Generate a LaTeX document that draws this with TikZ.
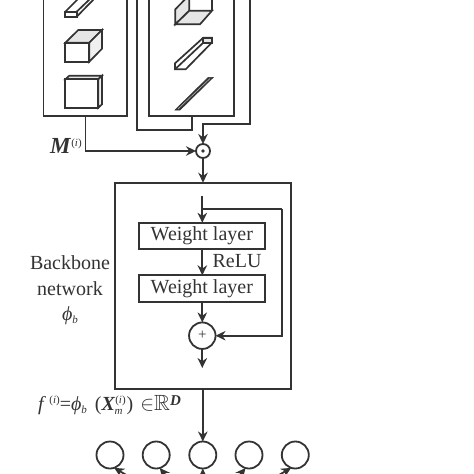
\documentclass[tikz,border=0pt]{standalone}
\usepackage{amssymb}
\usepackage{fontspec}
\setmainfont{Liberation Serif}
\usetikzlibrary{arrows.meta,calc}
\definecolor{ink}{HTML}{333333}
\definecolor{shade}{HTML}{E6E6E6}
\newcommand{\smsup}[1]{\raisebox{7pt}{\fontsize{11}{11}\selectfont #1}}
\newcommand{\smsub}[1]{\raisebox{-3pt}{\fontsize{11}{11}\selectfont\textit{#1}}}
\tikzset{
  x=1pt,y=-1pt,
  wire/.style={draw=ink,line width=1.8pt},
  arrow/.style={wire,-{Stealth[length=10pt,width=9.5pt]}},
  frame/.style={draw=ink,line width=1.8pt,rectangle,inner sep=0pt,outer sep=0pt},
  shape3d/.style={draw=ink,line width=1.7pt,line join=miter},
  lay/.style={frame,minimum width=125.5pt,minimum height=26.5pt,font=\fontsize{20}{20}\selectfont,text=ink},
  neuron/.style={circle,draw=ink,line width=1.8pt,inner sep=0pt,outer sep=0pt,minimum size=27pt},
  lab/.style={text=ink,font=\fontsize{20}{20}\selectfont,inner sep=0pt}
}
\begin{document}
\begin{tikzpicture}
\useasboundingbox (0,0) rectangle (474,474);
\clip (0,0) rectangle (474,474);
% input boxes
\node[frame,minimum width=83.5pt,minimum height=146pt] (leftbox) at (85.25,43) {};
\node[frame,minimum width=84.7pt,minimum height=146pt] (rightbox) at (191.35,43) {};
% left icons
\draw[shape3d,fill=white] (65.3,11.7) rectangle (76.7,16.7);
\draw[shape3d] (76.7,16.7) -- (95,-2);
\draw[shape3d] (65.3,11.7) -- (79,-2) (76.7,11.7) -- (91,-2);
\draw[shape3d,fill=shade] (65.3,42.7) -- (78.3,30) -- (102,30) -- (89.3,42.7) -- cycle;
\draw[shape3d,fill=shade!60] (89.3,42.7) -- (102,30) -- (102,48.7) -- (89.3,61.7) -- cycle;
\draw[shape3d,fill=white] (65.3,42.7) rectangle (89.3,61.7);
\draw[shape3d,fill=shade] (65.3,79.3) -- (69.3,75.7) -- (102,75.7) -- (98.3,79.3) -- cycle;
\draw[shape3d,fill=shade!60] (98.3,79.3) -- (102,75.7) -- (102,104.3) -- (98.3,107.7) -- cycle;
\draw[shape3d,fill=white] (65.3,79.3) rectangle (98.3,107.7);
% right icons
\draw[shape3d,fill=shade] (175.3,24.3) -- (189.3,10.7) -- (189.3,-5) -- (175.3,9.3) -- cycle;
\draw[shape3d,fill=shade] (175.3,24.3) -- (200,24.3) -- (212,10.7) -- (189.3,10.7) -- cycle;
\draw[shape3d] (212,10.7) -- (212,-3);
\draw[shape3d,fill=white] (175,63.3) -- (203.3,37.7) -- (211.7,37.7) -- (211.7,42.7) -- (185.7,69.3) -- (175,69.3) -- cycle;
\draw[shape3d,fill=shade] (203.3,42.7) -- (203.3,37.7) -- (211.7,37.7) -- (211.7,42.7) -- cycle;
\draw[shape3d] (175,69.3) -- (203.3,42.7);
\draw[draw=ink,fill=ink,line width=.6pt] (175,110) -- (180,110) -- (213.3,77.3) -- (208.3,77.3) -- cycle;
\draw[white!70!ink,line width=.5pt] (178,109) -- (210,78.5);
% odot
\node[neuron,minimum size=14pt] (dot) at (203,151) {};
\fill[ink] (dot.center) circle (1.8);
% frames round the right box
\coordinate (outerA) at (137,-3);
\coordinate (outerB) at (249.7,-3);
\draw[wire,line join=miter] (outerA) |- (192,130) -- (192,116);
\draw[arrow] (outerB) |- (203,123.7) -- (dot);
\draw[arrow] (leftbox.south -| 85.5,116) |- (dot);
% backbone
\node[frame,minimum width=176pt,minimum height=206pt] (backbone) at (202.7,285.7) {};
\draw[arrow] (dot) -- (dot |- backbone.north);
\node[lay] (w1) at (201.85,236) {\raisebox{-1pt}{Weight layer}};
\node[lay,minimum height=27pt] (w2) at (201.85,288.8) {\raisebox{-1pt}{Weight layer}};
\node[neuron,minimum size=26.5pt] (plus) at (202.3,335.7) {\textcolor{ink}{\fontsize{15}{15}\selectfont +}};
\coordinate (start) at (202.3,196);
\coordinate (branch) at (202.3,209);
\coordinate (turn) at (282,209);
\coordinate (out) at (202.3,368);
\draw[arrow] (start) -- (w1.north -| start);
\draw[wire] (branch) -- (turn);
\draw[arrow] (turn) |- (plus);
\draw[arrow] (w1.south -| start) -- (w2.north -| start);
\draw[arrow] (w2.south -| start) -- (plus);
\draw[arrow] (plus) -- (out);
% neurons
\node[neuron] (c1) at (110,455) {};
\node[neuron] (c2) at (156.2,455) {};
\node[neuron] (c3) at (202.8,455) {};
\node[neuron] (c4) at (249,455) {};
\node[neuron] (c5) at (295.3,455) {};
\coordinate (hub) at (202.8,520);
\draw[arrow] (backbone.south -| c3) -- (c3);
\draw[arrow] (hub) -- (c1.-72);
\draw[arrow] (hub) -- (c2.-75);
\draw[arrow] (hub) -- (c3.south);
\draw[arrow] (hub) -- (c4.-105);
\draw[arrow] (hub) -- (c5.-108);
% labels
\node[lab] (relu) at (237,261.5) {ReLU};
\node[lab] (bb1) at (70,262.5) {Backbone};
\node[lab] (bb2) at (70,288.5) {network};
\node[lab] (bb3) at (70,316) {\textit{ϕ}\smsub{b}};
\node[lab,font=\fontsize{23}{23}\selectfont,anchor=west] (mlab) at (50,146) {\textbf{\textit{M}}\smsup{(\textit{i})}};
\node[lab,anchor=west] (flab) at (38,405) {\textit{f}\,\smsup{(\textit{i})}=\textit{ϕ}\smsub{b}\kern8pt(\textbf{\textit{X}}\smsup{(\textit{i})}\kern-11pt\raisebox{-4pt}{\fontsize{11}{11}\selectfont\textit{m}}\kern4pt)\kern7pt$\in$\fontsize{22}{22}\selectfont$\mathbb{R}$\raisebox{5pt}{\fontsize{15}{15}\selectfont\textbf{\textit{D}}}};
\end{tikzpicture}
\end{document}
